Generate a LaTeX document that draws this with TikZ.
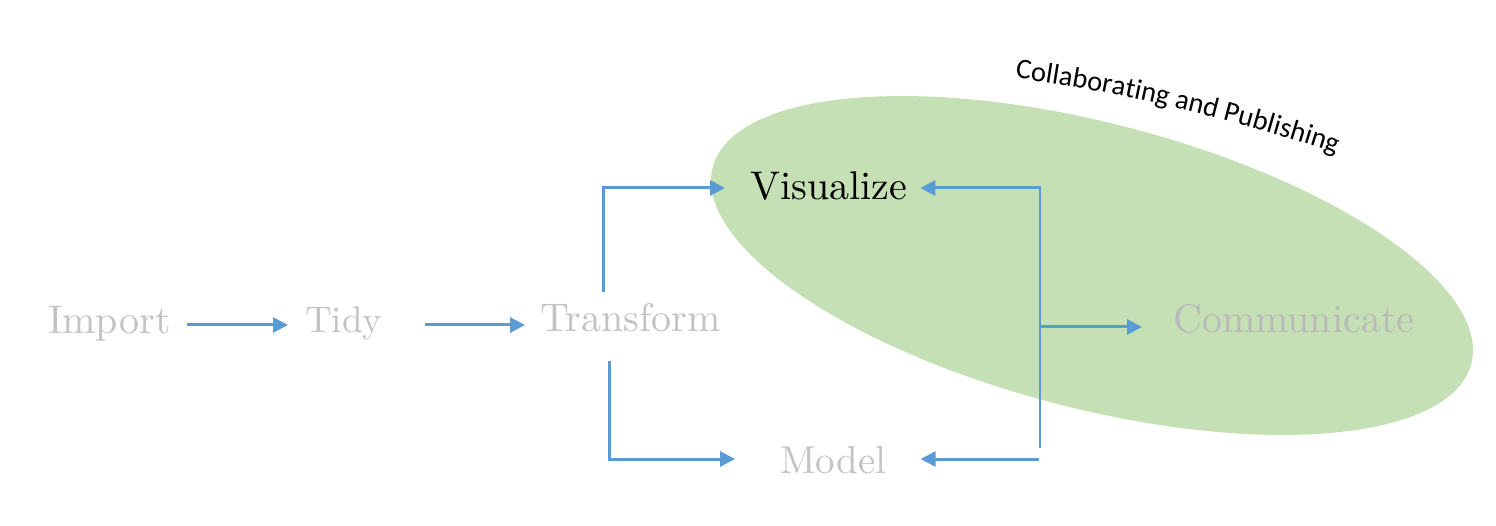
\documentclass[tikz,border=0pt]{standalone}
\usepackage{fontspec}
\newfontfamily\carlito{Carlito}
\newfontfamily\stagefont{lmroman10-regular}[Extension=.otf]
\usetikzlibrary{arrows.meta,calc,decorations.text}
\definecolor{flowblue}{RGB}{91,155,213}
\definecolor{sharegreen}{RGB}{197,224,180}
\definecolor{stagegray}{RGB}{195,195,195}
\tikzset{
  stage/.style={inner sep=0pt, anchor=base west, text=stagegray,
                font=\stagefont\fontsize{40}{48}\selectfont},
  flow/.style={draw=flowblue, line width=3pt,
               -{Triangle[length=15pt,width=15pt]}},
  spine/.style={draw=flowblue, line width=1.5pt},
}
\begin{document}
\begin{tikzpicture}[x=1pt,y=1pt]
\useasboundingbox (0,0) rectangle (1496,-526);

% collaboration area
\fill[sharegreen, rotate around={-14.5:(1092,-265.5)}]
  (1092,-265.5) ellipse [x radius=391.8pt, y radius=142.7pt];

% curved caption above the area
\path[decorate, decoration={text along path, text align=left,
  text={|\carlito\fontsize{28.5}{32}\selectfont|Collaborating and Publishing}}]
  (1015,-78) .. controls (1120,-92) and (1230,-118) .. (1345,-156);

% stages
\node[stage] (imp)   at (48,-334)  {Import};
\node[stage, font=\stagefont\fontsize{37}{44}\selectfont] (tidy) at (305,-333) {Tidy};
\node[stage] (trans) at (540,-332) {Transform};
\node[stage, text=black] (vis) at (750,-200) {Visualize};
\node[stage, font=\stagefont\fontsize{39}{46}\selectfont] (model) at (780,-473) {Model};
\node[stage, text=stagegray!95!black] (comm) at (1173,-333) {Communicate};

% junction points of the feedback spine
\coordinate (jtop) at (1041,-188);
\coordinate (jmid) at (1039,-327);
\coordinate (jbot) at (1039,-459);

% connectors
\draw[flow] ($(imp.base east)+(16,9)$) -- ($(tidy.base west)+(-17,8)$);
\draw[flow] ($(tidy.base east)+(42,8)$) -- ($(trans.base west)+(-15,7)$);
\draw[flow] ($(trans.base west)+(63,40)$) |- ($(vis.base west)+(-25,12)$);
\draw[flow] ($(trans.base west)+(69,-29)$) |- ($(model.base west)+(-45,14)$);
\draw[flow] (jtop) -- ($(vis.base east)+(13,12)$);
\draw[spine] (1040,-187) -- (1040,-448);
\draw[flow] (jmid) -- ($(comm.base west)+(-31,6)$);
\draw[flow] (jbot) -- ($(model.base east)+(34,14)$);
\end{tikzpicture}
\end{document}
